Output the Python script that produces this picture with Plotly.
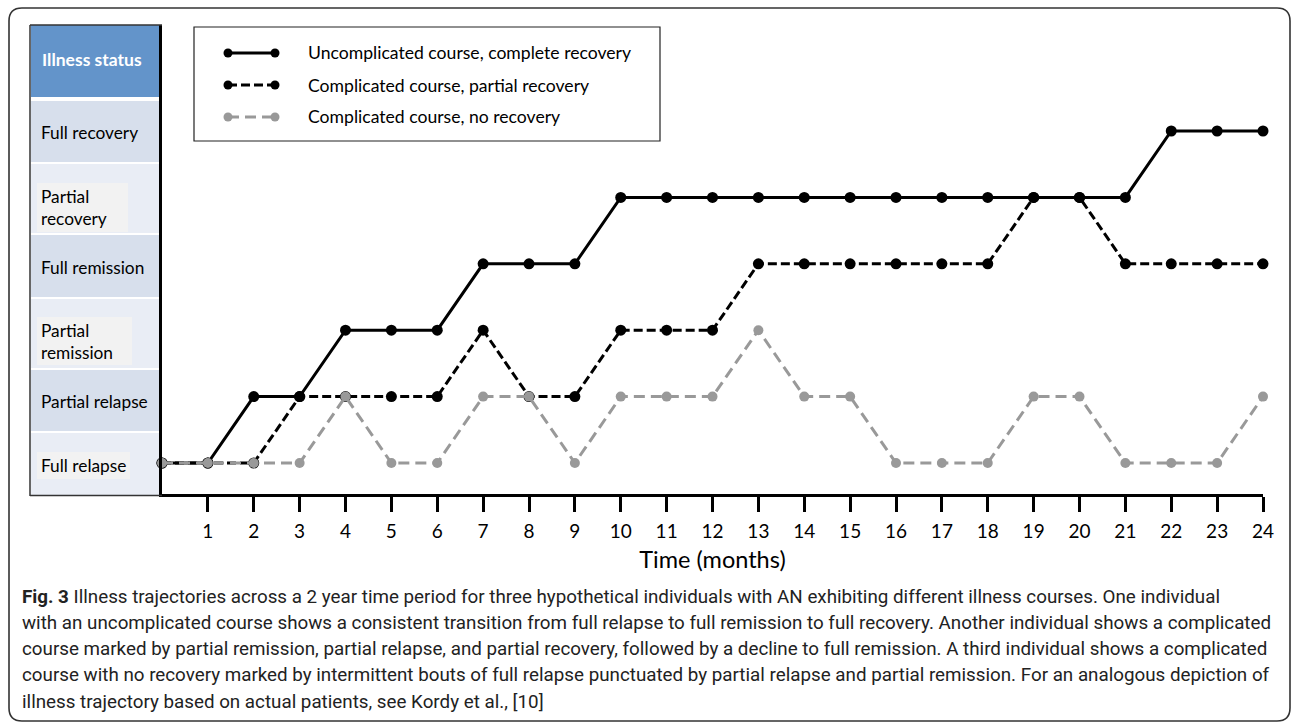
import plotly.graph_objects as go

# ---------------- data ----------------
months = list(range(0, 25))
tick_values = list(range(1, 25))
tick_labels = [str(m) for m in tick_values]
status_levels = ["Full relapse", "Partial relapse", "Partial remission",
                 "Full remission", "Partial recovery", "Full recovery"]
series_names = ["Uncomplicated course, complete recovery",
                "Complicated course, partial recovery",
                "Complicated course, no recovery"]
uncomplicated = [0, 0, 1, 1, 2, 2, 2, 3, 3, 3, 4, 4, 4, 4, 4, 4, 4, 4, 4, 4, 4, 4, 5, 5, 5]
partial_recovery = [0, 0, 0, 1, 1, 1, 1, 2, 1, 1, 2, 2, 2, 3, 3, 3, 3, 3, 3, 4, 4, 3, 3, 3, 3]
no_recovery = [0, 0, 0, 0, 1, 0, 0, 1, 1, 0, 1, 1, 1, 2, 1, 1, 0, 0, 0, 1, 1, 0, 0, 0, 1]
caption_lines = [
    "<b>Fig. 3</b> Illness trajectories across a 2 year time period for three hypothetical individuals with AN exhibiting different illness courses. One individual",
    "with an uncomplicated course shows a consistent transition from full relapse to full remission to full recovery. Another individual shows a complicated",
    "course marked by partial remission, partial relapse, and partial recovery, followed by a decline to full remission. A third individual shows a complicated",
    "course with no recovery marked by intermittent bouts of full relapse punctuated by partial relapse and partial remission. For an analogous depiction of",
    "illness trajectory based on actual patients, see Kordy et al., [10]",
]

# ---------------- layout geometry (pixels) ----------------
W, H = 1292, 724
PL, PR, PT, PB = 162, 1263, 25, 494   # plot area edges


def px(x):
    return (x - PL) / (PR - PL)


def py(y):
    return (PB - y) / (PB - PT)


FONT = "Lato, 'Open Sans', sans-serif"
CAP_FONT = "Roboto, Lato, sans-serif"

styles = [
    dict(color="black", width=3, dash="solid", msize=11, mcolor="black"),
    dict(color="black", width=3, dash="9px,4px", msize=11, mcolor="black"),
    dict(color="#999999", width=3, dash="11px,6px", msize=10, mcolor="#999999"),
]
series_values = [uncomplicated, partial_recovery, no_recovery]

fig = go.Figure()
for name, vals, st in zip(series_names, series_values, styles):
    fig.add_trace(go.Scatter(
        x=months, y=vals, name=name, mode="lines+markers",
        line=dict(color=st["color"], width=st["width"], dash=st["dash"]),
        marker=dict(size=st["msize"], color=st["mcolor"]),
        cliponaxis=False, showlegend=False,
    ))

shapes = []
# outer rounded frame
fx0, fy0, fx1, fy1, r = 9, 8, 1290, 721, 13
path = (f"M {px(fx0+r)},{py(fy0)} L {px(fx1-r)},{py(fy0)} Q {px(fx1)},{py(fy0)} {px(fx1)},{py(fy0+r)} "
        f"L {px(fx1)},{py(fy1-r)} Q {px(fx1)},{py(fy1)} {px(fx1-r)},{py(fy1)} "
        f"L {px(fx0+r)},{py(fy1)} Q {px(fx0)},{py(fy1)} {px(fx0)},{py(fy1-r)} "
        f"L {px(fx0)},{py(fy0+r)} Q {px(fx0)},{py(fy0)} {px(fx0+r)},{py(fy0)} Z")
shapes.append(dict(type="path", xref="paper", yref="paper", path=path,
                   line=dict(color="#333333", width=1.6), layer="below"))

# left status panel
rows = [  # (top, bottom, fill)
    (25, 97, "#6394CA"),
    (101, 162, "#D7DFEC"),
    (164, 233, "#E9EDF5"),
    (235, 297, "#D7DFEC"),
    (299, 368, "#E9EDF5"),
    (370, 431, "#D7DFEC"),
    (433, 495, "#E9EDF5"),
]
for t, b, c in rows:
    shapes.append(dict(type="rect", xref="paper", yref="paper",
                       x0=px(31), x1=px(161), y0=py(b), y1=py(t),
                       fillcolor=c, line=dict(width=0), layer="below"))
for x0, x1, t, b in [(37, 128, 183, 232), (37, 132, 317, 365), (37, 130, 452, 479)]:
    shapes.append(dict(type="rect", xref="paper", yref="paper",
                       x0=px(x0), x1=px(x1), y0=py(b), y1=py(t),
                       fillcolor="#F2F2F2", line=dict(width=0), layer="below"))
# panel border (left, top, bottom)
for (x0, y0, x1, y1) in [(30, 25, 30, 496), (30, 25, 162, 25), (30, 495.5, 162, 495.5)]:
    shapes.append(dict(type="line", xref="paper", yref="paper",
                       x0=px(x0), y0=py(y0), x1=px(x1), y1=py(y1),
                       line=dict(color="#333333", width=1.5)))

# legend box
shapes.append(dict(type="rect", xref="paper", yref="paper",
                   x0=px(194), x1=px(660), y0=py(141), y1=py(27),
                   fillcolor="white", line=dict(color="#222222", width=1.2)))
leg_y = [53, 85, 117]
for ly, st in zip(leg_y, styles):
    shapes.append(dict(type="line", xref="paper", yref="paper",
                       x0=px(228), x1=px(275), y0=py(ly), y1=py(ly),
                       line=dict(color=st["color"], width=3, dash=st["dash"])))
    for cx in (228, 275):
        shapes.append(dict(type="circle", xref="paper", yref="paper",
                           xsizemode="pixel", ysizemode="pixel",
                           xanchor=px(cx), yanchor=py(ly),
                           x0=-4.5, x1=4.5, y0=-4.5, y1=4.5,
                           fillcolor=st["mcolor"], line=dict(width=0)))

annotations = []
annotations.append(dict(xref="paper", yref="paper", x=px(40), y=py(59),
                        xanchor="left", yanchor="middle", showarrow=False,
                        text="<b>Illness status</b>",
                        font=dict(family=FONT, size=17.5, color="white")))
label_pos = {"Full recovery": 132, "Partial recovery": 207, "Full remission": 267,
             "Partial remission": 341, "Partial relapse": 401, "Full relapse": 465}
for lvl in status_levels:
    txt = lvl
    if lvl in ("Partial recovery", "Partial remission"):
        txt = lvl.replace(" ", "<br>")
    annotations.append(dict(xref="paper", yref="paper", x=px(39), y=py(label_pos[lvl]),
                            xanchor="left", yanchor="middle", align="left",
                            showarrow=False, text=txt,
                            font=dict(family=FONT, size=17.3, color="black")))
for ly, name in zip(leg_y, series_names):
    annotations.append(dict(xref="paper", yref="paper", x=px(306), y=py(ly),
                            xanchor="left", yanchor="middle", showarrow=False,
                            text=name, font=dict(family=FONT, size=17.6, color="black")))
cap_y = [597, 623, 649, 675, 702]
for cy, line in zip(cap_y, caption_lines):
    annotations.append(dict(xref="paper", yref="paper", x=px(20), y=py(cy),
                            xanchor="left", yanchor="middle", showarrow=False,
                            text=line, font=dict(family=CAP_FONT, size=18.8, color="#222222")))

lvl_px = 66.4
fig.update_layout(
    width=W, height=H, margin=dict(l=PL, r=W - PR, t=PT, b=H - PB),
    paper_bgcolor="white", plot_bgcolor="white",
    font=dict(family=FONT, color="black"),
    shapes=shapes, annotations=annotations,
    xaxis=dict(range=[0, 24], tickmode="array", tickvals=tick_values, ticktext=tick_labels,
               ticks="outside", ticklen=15, tickwidth=3, tickcolor="black",
               showline=True, linewidth=3, linecolor="black", showgrid=False, zeroline=False,
               tickfont=dict(family=FONT, size=19, color="black"), ticklabelstandoff=3,
               title=dict(text="Time (months)", font=dict(family=FONT, size=23.5, color="black"),
                          standoff=11)),
    yaxis=dict(range=[-(PB - 463) / lvl_px, (463 - PT) / lvl_px], showline=True, linewidth=3,
               linecolor="black", showgrid=False, zeroline=False, showticklabels=False,
               ticks=""),
)

fig.write_html("out.html", config={"displayModeBar": False},
               post_script="document.body.style.margin='0px';document.body.style.overflow='hidden';")
